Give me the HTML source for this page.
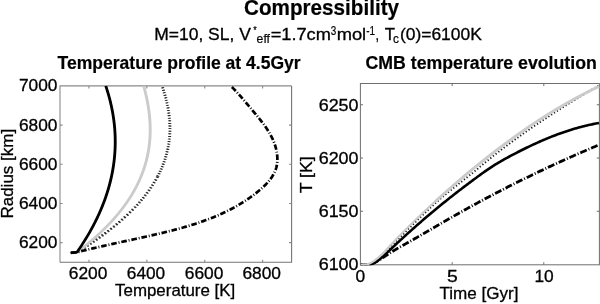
<!DOCTYPE html>
<html><head><meta charset="utf-8"><title>Compressibility</title>
<style>
html,body{margin:0;padding:0;background:#fff;}
body{width:600px;height:304px;overflow:hidden;}
svg{display:block;will-change:transform;}
text{font-family:"Liberation Sans",sans-serif;fill:#000;}
</style></head><body>
<svg width="600" height="304" viewBox="0 0 600 304">
<rect width="600" height="304" fill="#fff"/>
<g>
<text transform="translate(244.05,14.80) scale(0.9611,1)" font-size="21.5" font-weight="bold" stroke="#000" stroke-width="0.2">Compressibility</text>
<text transform="translate(57.60,69.40) scale(1.0014,1)" font-size="17.5" font-weight="bold" stroke="#000" stroke-width="0.2">Temperature profile at 4.5Gyr</text>
<text transform="translate(365.45,69.40) scale(1.0127,1)" font-size="17.5" font-weight="bold" stroke="#000" stroke-width="0.2">CMB temperature evolution</text>
<text transform="translate(154.23,39.80) scale(1.0222,1)" font-size="17.1" stroke="#000" stroke-width="0.3">M=10, SL, V</text>
<text transform="translate(253.26,34.10) scale(0.8095,1)" font-size="11" stroke="#000" stroke-width="0.2">*</text>
<text transform="translate(256.62,43.20) scale(1.0163,1)" font-size="12" stroke="#000" stroke-width="0.2">eff</text>
<text transform="translate(270.65,39.80) scale(1.0662,1)" font-size="17.1" stroke="#000" stroke-width="0.3">=1.7cm</text>
<text transform="translate(330.69,34.70) scale(0.8258,1)" font-size="12" stroke="#000" stroke-width="0.2">3</text>
<text transform="translate(336.65,39.80) scale(1.0726,1)" font-size="17.1" stroke="#000" stroke-width="0.3">mol</text>
<text transform="translate(366.19,34.70) scale(0.8258,1)" font-size="12" stroke="#000" stroke-width="0.2">-1</text>
<text transform="translate(375.60,39.80) scale(0.7485,1)" font-size="17.1" stroke="#000" stroke-width="0.3">,</text>
<text transform="translate(384.74,39.80) scale(0.9812,1)" font-size="17.1" stroke="#000" stroke-width="0.3">T</text>
<text transform="translate(392.93,43.40) scale(0.9931,1)" font-size="12" stroke="#000" stroke-width="0.2">c</text>
<text transform="translate(399.88,39.80) scale(1.0208,1)" font-size="17.1" stroke="#000" stroke-width="0.3">(0)=6100K</text>
<text transform="translate(115.04,296.20) scale(0.9952,1)" font-size="17" stroke="#000" stroke-width="0.3">Temperature [K]</text>
<text transform="translate(439.43,299.30) scale(1.0048,1)" font-size="17" stroke="#000" stroke-width="0.3">Time [Gyr]</text>
<text transform="translate(12.90,218.53) rotate(-90) scale(0.9998,1)" font-size="17" stroke="#000" stroke-width="0.3">Radius [km]</text>
<text transform="translate(312.20,193.28) rotate(-90) scale(1.0398,1)" font-size="17" stroke="#000" stroke-width="0.3">T [K]</text>
<text transform="translate(68.79,279.00) scale(1.0219,1)" font-size="17" stroke="#000" stroke-width="0.3">6200</text>
<text transform="translate(126.79,279.00) scale(1.0164,1)" font-size="17" stroke="#000" stroke-width="0.3">6400</text>
<text transform="translate(184.79,279.00) scale(1.0219,1)" font-size="17" stroke="#000" stroke-width="0.3">6600</text>
<text transform="translate(242.39,279.00) scale(1.0219,1)" font-size="17" stroke="#000" stroke-width="0.3">6800</text>
<text transform="translate(18.89,248.16) scale(1.0192,1)" font-size="17" stroke="#000" stroke-width="0.3">6200</text>
<text transform="translate(18.89,208.97) scale(1.0192,1)" font-size="17" stroke="#000" stroke-width="0.3">6400</text>
<text transform="translate(18.89,169.78) scale(1.0192,1)" font-size="17" stroke="#000" stroke-width="0.3">6600</text>
<text transform="translate(18.89,130.59) scale(1.0192,1)" font-size="17" stroke="#000" stroke-width="0.3">6800</text>
<text transform="translate(18.89,91.40) scale(1.0192,1)" font-size="17" stroke="#000" stroke-width="0.3">7000</text>
<text transform="translate(355.46,282.00) scale(1.0235,1)" font-size="17" stroke="#000" stroke-width="0.3">0</text>
<text transform="translate(446.99,282.00) scale(1.1416,1)" font-size="17" stroke="#000" stroke-width="0.3">5</text>
<text transform="translate(534.41,282.00) scale(1.0216,1)" font-size="17" stroke="#000" stroke-width="0.3">10</text>
<text transform="translate(318.66,270.30) scale(1.0547,1)" font-size="17" stroke="#000" stroke-width="0.3">6100</text>
<text transform="translate(318.66,217.05) scale(1.0547,1)" font-size="17" stroke="#000" stroke-width="0.3">6150</text>
<text transform="translate(318.66,163.80) scale(1.0547,1)" font-size="17" stroke="#000" stroke-width="0.3">6200</text>
<text transform="translate(318.66,110.55) scale(1.0547,1)" font-size="17" stroke="#000" stroke-width="0.3">6250</text>
</g>
<!-- left axes -->
<g fill="none" stroke="#8a8a8a" stroke-width="1.1">
<path d="M60 262.25V85.9H291.6"/>
<path d="M291.6 85.9V262.25H60" stroke="#747474"/>
<path d="M88.95 262.25v-2.6M88.95 85.9v2.6"/>
<path d="M146.85 262.25v-2.6M146.85 85.9v2.6"/>
<path d="M204.75 262.25v-2.6M204.75 85.9v2.6"/>
<path d="M262.65 262.25v-2.6M262.65 85.9v2.6"/>
<path d="M60 242.66h2.6M291.6 242.66h-2.6"/>
<path d="M60 203.47h2.6M291.6 203.47h-2.6"/>
<path d="M60 164.28h2.6M291.6 164.28h-2.6"/>
<path d="M60 125.09h2.6M291.6 125.09h-2.6"/>
</g>
<!-- right axes -->
<g fill="none" stroke="#6e6e6e" stroke-width="1">
<rect x="360.4" y="83.5" width="239.0" height="181.3"/>
<path d="M452.15 264.8v-2.6M452.15 83.5v2.6"/>
<path d="M543.80 264.8v-2.6M543.80 83.5v2.6"/>
<path d="M360.4 211.25h2.6M599.4 211.25h-2.6"/>
<path d="M360.4 158.00h2.6M599.4 158.00h-2.6"/>
<path d="M360.4 104.75h2.6M599.4 104.75h-2.6"/>
</g>
<clipPath id="cl"><rect x="60" y="85.5" width="232" height="176.5"/></clipPath>
<clipPath id="cr"><rect x="360" y="83" width="240" height="182.2"/></clipPath>
<g clip-path="url(#cl)"><g fill="none" stroke-linejoin="round" transform="translate(59.6,0)">
<g>
<path d="M11.00 252.80L17.00 252.20L17.69 251.78L18.37 251.37L19.05 250.95L19.73 250.53L20.41 250.12L21.08 249.70L21.75 249.28L22.41 248.87L23.08 248.45L23.74 248.03L24.40 247.62L25.05 247.20L25.70 246.78L26.35 246.37L27.00 245.95L27.64 245.54L28.28 245.12L28.92 244.70L29.55 244.29L30.18 243.87L30.81 243.45L31.44 243.04L32.06 242.62L32.68 242.20L33.30 241.79L33.91 241.37L34.52 240.95L35.13 240.54L35.74 240.12L36.34 239.70L36.94 239.29L37.54 238.87L38.13 238.45L38.73 238.04L39.31 237.62L39.90 237.20L40.48 236.79L41.06 236.37L41.64 235.95L42.22 235.54L42.79 235.12L43.36 234.71L43.93 234.29L44.49 233.87L45.05 233.46L45.61 233.04L46.16 232.62L46.72 232.21L47.27 231.79L47.81 231.37L48.36 230.96L48.90 230.54L49.44 230.12L49.98 229.71L50.51 229.29L51.04 228.87L51.57 228.46L52.10 228.04L52.62 227.62L53.14 227.21L53.66 226.79L54.17 226.37L54.68 225.96L55.19 225.54L55.70 225.12L56.20 224.71L56.70 224.29L57.20 223.88L57.70 223.46L58.19 223.04L58.68 222.63L59.17 222.21L59.66 221.79L60.14 221.38L60.62 220.96L61.10 220.54L61.57 220.13L62.04 219.71L62.51 219.29L62.98 218.88L63.44 218.46L63.91 218.04L64.37 217.63L64.82 217.21L65.28 216.79L65.73 216.38L66.18 215.96L66.62 215.54L67.07 215.13L67.51 214.71L67.95 214.29L68.38 213.88L68.82 213.46L69.25 213.05L69.68 212.63L70.10 212.21L70.52 211.80L70.94 211.38L71.36 210.96L71.78 210.55L72.19 210.13L72.60 209.71L73.01 209.30L73.42 208.88L73.82 208.46L74.22 208.05L74.62 207.63L75.01 207.21L75.41 206.80L75.80 206.38L76.18 205.96L76.57 205.55L76.95 205.13" stroke="#2a2a2a" stroke-width="2.3" stroke-dasharray="1.1 2.5"/>
<path d="M76.95 205.13L77.33 204.71L77.71 204.30L78.09 203.88L78.46 203.46L78.83 203.05L79.20 202.63L79.57 202.22L79.93 201.80L80.29 201.38L80.65 200.97L81.01 200.55L81.36 200.13L81.71 199.72L82.06 199.30L82.41 198.88L82.75 198.47L83.09 198.05L83.43 197.63L83.77 197.22L84.10 196.80L84.44 196.38L84.77 195.97L85.09 195.55L85.42 195.13L85.74 194.72L86.06 194.30L86.38 193.88L86.70 193.47L87.01 193.05L87.32 192.63L87.63 192.22L87.93 191.80L88.24 191.38L88.54 190.97L88.84 190.55L89.14 190.14L89.43 189.72L89.72 189.30L90.01 188.89L90.30 188.47L90.59 188.05L90.87 187.64L91.15 187.22L91.43 186.80L91.71 186.39L91.98 185.97L92.25 185.55L92.52 185.14L92.79 184.72L93.05 184.30L93.32 183.89L93.58 183.47L93.84 183.05L94.09 182.64L94.35 182.22L94.60 181.80L94.85 181.39L95.09 180.97L95.34 180.55L95.58 180.14L95.82 179.72L96.06 179.31L96.30 178.89L96.53 178.47L96.76 178.06L96.99 177.64L97.22 177.22L97.44 176.81L97.67 176.39" stroke="#2a2a2a" stroke-width="2.3" stroke-dasharray="0.95 2.15"/>
<path d="M97.67 176.39L97.89 175.97L98.11 175.56L98.32 175.14L98.54 174.72L98.75 174.31L98.96 173.89L99.17 173.47L99.37 173.06L99.57 172.64L99.78 172.22L99.98 171.81L100.17 171.39L100.37 170.97L100.56 170.56L100.75 170.14L100.94 169.72L101.13 169.31L101.31 168.89L101.49 168.48L101.67 168.06L101.85 167.64L102.03 167.23L102.20 166.81L102.37 166.39L102.54 165.98L102.71 165.56L102.88 165.14L103.04 164.73L103.20 164.31L103.36 163.89L103.52 163.48L103.68 163.06L103.83 162.64L103.98 162.23L104.13 161.81L104.28 161.39L104.42 160.98L104.57 160.56L104.71 160.14L104.85 159.73L104.99 159.31L105.12 158.89L105.25 158.48L105.39 158.06L105.52 157.65L105.64 157.23L105.77 156.81L105.89 156.40L106.01 155.98L106.13 155.56L106.25 155.15L106.37 154.73L106.48 154.31L106.59 153.90L106.70 153.48L106.81 153.06L106.92 152.65L107.02 152.23L107.12 151.81L107.22 151.40L107.32 150.98L107.42 150.56L107.51 150.15L107.60 149.73L107.69 149.31L107.78 148.90L107.87 148.48L107.96 148.06L108.04 147.65L108.12 147.23L108.20 146.82L108.28 146.40L108.35 145.98L108.43 145.57L108.50 145.15L108.57 144.73L108.64 144.32L108.70 143.90L108.77 143.48L108.83 143.07L108.89 142.65L108.95 142.23L109.01 141.82L109.06 141.40L109.12 140.98L109.17 140.57L109.22 140.15L109.27 139.73L109.31 139.32L109.36 138.90L109.40 138.48L109.44 138.07L109.48 137.65L109.52 137.23L109.56 136.82L109.59 136.40L109.62 135.98L109.65 135.57L109.68 135.15L109.71 134.74L109.73 134.32L109.76 133.90L109.78 133.49L109.80 133.07L109.82 132.65L109.83 132.24L109.85 131.82L109.86 131.40L109.87 130.99L109.88 130.57L109.89 130.15L109.90 129.74L109.90 129.32L109.91 128.90L109.91 128.49L109.91 128.07L109.90 127.65L109.90 127.24L109.90 126.82L109.89 126.40L109.88 125.99L109.87 125.57L109.86 125.15L109.84 124.74L109.83 124.32L109.81 123.91L109.79 123.49L109.77 123.07L109.75 122.66L109.73 122.24L109.70 121.82L109.68 121.41L109.65 120.99L109.62 120.57L109.59 120.16L109.55 119.74L109.52 119.32L109.48 118.91L109.45 118.49L109.41 118.07L109.37 117.66L109.32 117.24L109.28 116.82L109.23 116.41L109.19 115.99L109.14 115.57L109.09 115.16L109.04 114.74L108.98 114.32L108.93 113.91L108.87 113.49L108.81 113.08L108.76 112.66L108.69 112.24L108.63 111.83L108.57 111.41L108.50 110.99L108.44 110.58L108.37 110.16L108.30 109.74L108.23 109.33L108.15 108.91L108.08 108.49L108.00 108.08L107.93 107.66L107.85 107.24L107.77 106.83L107.69 106.41L107.60 105.99L107.52 105.58L107.43 105.16L107.35 104.74L107.26 104.33L107.17 103.91L107.07 103.49L106.98 103.08L106.89 102.66L106.79 102.25L106.69 101.83L106.60 101.41L106.50 101.00L106.39 100.58L106.29 100.16L106.19 99.75L106.08 99.33L105.97 98.91L105.87 98.50L105.76 98.08L105.64 97.66L105.53 97.25L105.42 96.83L105.30 96.41L105.19 96.00L105.07 95.58L104.95 95.16L104.83 94.75L104.71 94.33L104.58 93.91L104.46 93.50L104.33 93.08L104.21 92.66L104.08 92.25L103.95 91.83L103.82 91.42L103.68 91.00L103.55 90.58L103.42 90.17L103.28 89.75L103.14 89.33L103.00 88.92L102.86 88.50L102.72 88.08L102.58 87.67L102.44 87.25L102.29 86.83L102.14 86.42L102.00 86.00" stroke="#222" stroke-width="2.3" stroke-dasharray="0.85 1.75"/>
<path d="M11.00 252.80L17.00 252.20L18.85 250.80L20.67 249.41L22.46 248.01L24.22 246.61L25.96 245.22L27.67 243.82L29.35 242.42L31.00 241.03L32.63 239.63L34.24 238.23L35.81 236.84L37.36 235.44L38.89 234.04L40.39 232.65L41.86 231.25L43.31 229.85L44.73 228.46L46.13 227.06L47.50 225.66L48.85 224.27L50.17 222.87L51.47 221.47L52.74 220.08L53.99 218.68L55.22 217.28L56.42 215.89L57.59 214.49L58.75 213.09L59.88 211.70L60.99 210.30L62.07 208.90L63.13 207.51L64.17 206.11L65.18 204.71L66.17 203.32L67.14 201.92L68.09 200.52L69.02 199.13L69.92 197.73L70.80 196.33L71.66 194.94L72.50 193.54L73.31 192.14L74.11 190.75L74.88 189.35L75.63 187.95L76.36 186.56L77.08 185.16L77.77 183.76L78.44 182.37L79.09 180.97L79.71 179.57L80.32 178.18L80.91 176.78L81.48 175.38L82.03 173.99L82.56 172.59L83.08 171.19L83.57 169.80L84.04 168.40L84.50 167.01L84.93 165.61L85.35 164.21L85.75 162.82L86.13 161.42L86.49 160.02L86.84 158.63L87.16 157.23L87.47 155.83L87.76 154.44L88.04 153.04L88.30 151.64L88.54 150.25L88.76 148.85L88.97 147.45L89.16 146.06L89.33 144.66L89.49 143.26L89.63 141.87L89.75 140.47L89.86 139.07L89.95 137.68L90.03 136.28L90.09 134.88L90.14 133.49L90.17 132.09L90.19 130.69L90.19 129.30L90.18 127.90L90.15 126.50L90.11 125.11L90.06 123.71L89.99 122.31L89.90 120.92L89.80 119.52L89.69 118.12L89.57 116.73L89.43 115.33L89.28 113.93L89.11 112.54L88.93 111.14L88.74 109.74L88.54 108.35L88.33 106.95L88.10 105.55L87.86 104.16L87.61 102.76L87.34 101.36L87.07 99.97L86.78 98.57L86.48 97.17L86.17 95.78L85.85 94.38L85.52 92.98L85.17 91.59L84.82 90.19L84.46 88.79L84.08 87.40L83.70 86.00" stroke="#cbcbcb" stroke-width="2.1"/>
</g>
<g transform="translate(0.8,0)">
<path d="M11.00 252.80L17.00 252.20L17.69 251.78L18.37 251.37L19.05 250.95L19.73 250.53L20.41 250.12L21.08 249.70L21.75 249.28L22.41 248.87L23.08 248.45L23.74 248.03L24.40 247.62L25.05 247.20L25.70 246.78L26.35 246.37L27.00 245.95L27.64 245.54L28.28 245.12L28.92 244.70L29.55 244.29L30.18 243.87L30.81 243.45L31.44 243.04L32.06 242.62L32.68 242.20L33.30 241.79L33.91 241.37L34.52 240.95L35.13 240.54L35.74 240.12L36.34 239.70L36.94 239.29L37.54 238.87L38.13 238.45L38.73 238.04L39.31 237.62L39.90 237.20L40.48 236.79L41.06 236.37L41.64 235.95L42.22 235.54L42.79 235.12L43.36 234.71L43.93 234.29L44.49 233.87L45.05 233.46L45.61 233.04L46.16 232.62L46.72 232.21L47.27 231.79L47.81 231.37L48.36 230.96L48.90 230.54L49.44 230.12L49.98 229.71L50.51 229.29L51.04 228.87L51.57 228.46L52.10 228.04L52.62 227.62L53.14 227.21L53.66 226.79L54.17 226.37L54.68 225.96L55.19 225.54L55.70 225.12L56.20 224.71L56.70 224.29L57.20 223.88L57.70 223.46L58.19 223.04L58.68 222.63L59.17 222.21L59.66 221.79L60.14 221.38L60.62 220.96L61.10 220.54L61.57 220.13L62.04 219.71L62.51 219.29L62.98 218.88L63.44 218.46L63.91 218.04L64.37 217.63L64.82 217.21L65.28 216.79L65.73 216.38L66.18 215.96L66.62 215.54L67.07 215.13L67.51 214.71L67.95 214.29L68.38 213.88L68.82 213.46L69.25 213.05L69.68 212.63L70.10 212.21L70.52 211.80L70.94 211.38L71.36 210.96L71.78 210.55L72.19 210.13L72.60 209.71L73.01 209.30L73.42 208.88L73.82 208.46L74.22 208.05L74.62 207.63L75.01 207.21L75.41 206.80L75.80 206.38L76.18 205.96L76.57 205.55L76.95 205.13" stroke="#2a2a2a" stroke-width="2.3" stroke-dasharray="1.1 2.5"/>
<path d="M76.95 205.13L77.33 204.71L77.71 204.30L78.09 203.88L78.46 203.46L78.83 203.05L79.20 202.63L79.57 202.22L79.93 201.80L80.29 201.38L80.65 200.97L81.01 200.55L81.36 200.13L81.71 199.72L82.06 199.30L82.41 198.88L82.75 198.47L83.09 198.05L83.43 197.63L83.77 197.22L84.10 196.80L84.44 196.38L84.77 195.97L85.09 195.55L85.42 195.13L85.74 194.72L86.06 194.30L86.38 193.88L86.70 193.47L87.01 193.05L87.32 192.63L87.63 192.22L87.93 191.80L88.24 191.38L88.54 190.97L88.84 190.55L89.14 190.14L89.43 189.72L89.72 189.30L90.01 188.89L90.30 188.47L90.59 188.05L90.87 187.64L91.15 187.22L91.43 186.80L91.71 186.39L91.98 185.97L92.25 185.55L92.52 185.14L92.79 184.72L93.05 184.30L93.32 183.89L93.58 183.47L93.84 183.05L94.09 182.64L94.35 182.22L94.60 181.80L94.85 181.39L95.09 180.97L95.34 180.55L95.58 180.14L95.82 179.72L96.06 179.31L96.30 178.89L96.53 178.47L96.76 178.06L96.99 177.64L97.22 177.22L97.44 176.81L97.67 176.39" stroke="#2a2a2a" stroke-width="2.3" stroke-dasharray="0.95 2.15"/>
<path d="M97.67 176.39L97.89 175.97L98.11 175.56L98.32 175.14L98.54 174.72L98.75 174.31L98.96 173.89L99.17 173.47L99.37 173.06L99.57 172.64L99.78 172.22L99.98 171.81L100.17 171.39L100.37 170.97L100.56 170.56L100.75 170.14L100.94 169.72L101.13 169.31L101.31 168.89L101.49 168.48L101.67 168.06L101.85 167.64L102.03 167.23L102.20 166.81L102.37 166.39L102.54 165.98L102.71 165.56L102.88 165.14L103.04 164.73L103.20 164.31L103.36 163.89L103.52 163.48L103.68 163.06L103.83 162.64L103.98 162.23L104.13 161.81L104.28 161.39L104.42 160.98L104.57 160.56L104.71 160.14L104.85 159.73L104.99 159.31L105.12 158.89L105.25 158.48L105.39 158.06L105.52 157.65L105.64 157.23L105.77 156.81L105.89 156.40L106.01 155.98L106.13 155.56L106.25 155.15L106.37 154.73L106.48 154.31L106.59 153.90L106.70 153.48L106.81 153.06L106.92 152.65L107.02 152.23L107.12 151.81L107.22 151.40L107.32 150.98L107.42 150.56L107.51 150.15L107.60 149.73L107.69 149.31L107.78 148.90L107.87 148.48L107.96 148.06L108.04 147.65L108.12 147.23L108.20 146.82L108.28 146.40L108.35 145.98L108.43 145.57L108.50 145.15L108.57 144.73L108.64 144.32L108.70 143.90L108.77 143.48L108.83 143.07L108.89 142.65L108.95 142.23L109.01 141.82L109.06 141.40L109.12 140.98L109.17 140.57L109.22 140.15L109.27 139.73L109.31 139.32L109.36 138.90L109.40 138.48L109.44 138.07L109.48 137.65L109.52 137.23L109.56 136.82L109.59 136.40L109.62 135.98L109.65 135.57L109.68 135.15L109.71 134.74L109.73 134.32L109.76 133.90L109.78 133.49L109.80 133.07L109.82 132.65L109.83 132.24L109.85 131.82L109.86 131.40L109.87 130.99L109.88 130.57L109.89 130.15L109.90 129.74L109.90 129.32L109.91 128.90L109.91 128.49L109.91 128.07L109.90 127.65L109.90 127.24L109.90 126.82L109.89 126.40L109.88 125.99L109.87 125.57L109.86 125.15L109.84 124.74L109.83 124.32L109.81 123.91L109.79 123.49L109.77 123.07L109.75 122.66L109.73 122.24L109.70 121.82L109.68 121.41L109.65 120.99L109.62 120.57L109.59 120.16L109.55 119.74L109.52 119.32L109.48 118.91L109.45 118.49L109.41 118.07L109.37 117.66L109.32 117.24L109.28 116.82L109.23 116.41L109.19 115.99L109.14 115.57L109.09 115.16L109.04 114.74L108.98 114.32L108.93 113.91L108.87 113.49L108.81 113.08L108.76 112.66L108.69 112.24L108.63 111.83L108.57 111.41L108.50 110.99L108.44 110.58L108.37 110.16L108.30 109.74L108.23 109.33L108.15 108.91L108.08 108.49L108.00 108.08L107.93 107.66L107.85 107.24L107.77 106.83L107.69 106.41L107.60 105.99L107.52 105.58L107.43 105.16L107.35 104.74L107.26 104.33L107.17 103.91L107.07 103.49L106.98 103.08L106.89 102.66L106.79 102.25L106.69 101.83L106.60 101.41L106.50 101.00L106.39 100.58L106.29 100.16L106.19 99.75L106.08 99.33L105.97 98.91L105.87 98.50L105.76 98.08L105.64 97.66L105.53 97.25L105.42 96.83L105.30 96.41L105.19 96.00L105.07 95.58L104.95 95.16L104.83 94.75L104.71 94.33L104.58 93.91L104.46 93.50L104.33 93.08L104.21 92.66L104.08 92.25L103.95 91.83L103.82 91.42L103.68 91.00L103.55 90.58L103.42 90.17L103.28 89.75L103.14 89.33L103.00 88.92L102.86 88.50L102.72 88.08L102.58 87.67L102.44 87.25L102.29 86.83L102.14 86.42L102.00 86.00" stroke="#222" stroke-width="2.3" stroke-dasharray="0.85 1.75"/>
<path d="M11.00 252.80L17.00 252.20L18.85 250.80L20.67 249.41L22.46 248.01L24.22 246.61L25.96 245.22L27.67 243.82L29.35 242.42L31.00 241.03L32.63 239.63L34.24 238.23L35.81 236.84L37.36 235.44L38.89 234.04L40.39 232.65L41.86 231.25L43.31 229.85L44.73 228.46L46.13 227.06L47.50 225.66L48.85 224.27L50.17 222.87L51.47 221.47L52.74 220.08L53.99 218.68L55.22 217.28L56.42 215.89L57.59 214.49L58.75 213.09L59.88 211.70L60.99 210.30L62.07 208.90L63.13 207.51L64.17 206.11L65.18 204.71L66.17 203.32L67.14 201.92L68.09 200.52L69.02 199.13L69.92 197.73L70.80 196.33L71.66 194.94L72.50 193.54L73.31 192.14L74.11 190.75L74.88 189.35L75.63 187.95L76.36 186.56L77.08 185.16L77.77 183.76L78.44 182.37L79.09 180.97L79.71 179.57L80.32 178.18L80.91 176.78L81.48 175.38L82.03 173.99L82.56 172.59L83.08 171.19L83.57 169.80L84.04 168.40L84.50 167.01L84.93 165.61L85.35 164.21L85.75 162.82L86.13 161.42L86.49 160.02L86.84 158.63L87.16 157.23L87.47 155.83L87.76 154.44L88.04 153.04L88.30 151.64L88.54 150.25L88.76 148.85L88.97 147.45L89.16 146.06L89.33 144.66L89.49 143.26L89.63 141.87L89.75 140.47L89.86 139.07L89.95 137.68L90.03 136.28L90.09 134.88L90.14 133.49L90.17 132.09L90.19 130.69L90.19 129.30L90.18 127.90L90.15 126.50L90.11 125.11L90.06 123.71L89.99 122.31L89.90 120.92L89.80 119.52L89.69 118.12L89.57 116.73L89.43 115.33L89.28 113.93L89.11 112.54L88.93 111.14L88.74 109.74L88.54 108.35L88.33 106.95L88.10 105.55L87.86 104.16L87.61 102.76L87.34 101.36L87.07 99.97L86.78 98.57L86.48 97.17L86.17 95.78L85.85 94.38L85.52 92.98L85.17 91.59L84.82 90.19L84.46 88.79L84.08 87.40L83.70 86.00" stroke="#cbcbcb" stroke-width="2.1"/>
</g>
<path d="M11.00 252.80L17.00 252.20L18.42 251.84L19.85 251.48L21.27 251.13L22.69 250.78L24.12 250.44L25.54 250.09L26.96 249.75L28.39 249.41L29.81 249.07L31.23 248.74L32.66 248.41L34.08 248.08L35.50 247.75L36.92 247.42L38.35 247.10L39.77 246.77L41.19 246.45L42.61 246.13L44.03 245.81L45.46 245.49L46.88 245.18L48.30 244.86L49.72 244.55L51.15 244.24L52.57 243.92L53.99 243.61L55.41 243.30L56.83 242.99L58.26 242.68L59.68 242.37L61.10 242.06L62.53 241.75L63.95 241.44L65.37 241.14L66.80 240.83L68.22 240.52L69.64 240.21L71.07 239.90L72.49 239.59L73.92 239.28L75.34 238.97L76.77 238.66L78.19 238.35L79.62 238.04L81.04 237.72L82.47 237.41L83.90 237.09L85.32 236.77L86.75 236.46L88.18 236.14L89.61 235.82L91.03 235.49L92.46 235.17L93.89 234.84L95.32 234.52L96.75 234.19L98.18 233.85L99.61 233.52L101.04 233.18L102.47 232.84L103.89 232.50L105.32 232.15L106.75 231.80L108.17 231.45L109.60 231.09L111.02 230.73L112.45 230.37L113.87 230.00L115.29 229.63L116.71 229.26L118.13 228.88L119.55 228.49L120.96 228.10L122.38 227.71L123.79 227.31L125.20 226.90L126.61 226.49L128.01 226.08L129.42 225.66L130.82 225.23L132.22 224.80L133.62 224.36L135.01 223.91L136.40 223.46L137.79 223.00L139.18 222.54L140.56 222.06L141.94 221.58L143.32 221.10L144.70 220.60L146.07 220.10L147.44 219.59L148.80 219.08L150.16 218.55L151.52 218.02L152.87 217.48L154.22 216.93L155.57 216.37L156.91 215.81L158.25 215.23L159.58 214.65L160.91 214.05L162.24 213.45L163.56 212.84L164.87 212.21L166.19 211.58L167.49 210.94L168.79 210.29L170.09 209.63L171.38 208.95L172.67 208.27L173.95 207.58L175.23 206.87L176.50 206.16L177.76 205.43L179.02 204.69L180.28 203.94L181.53 203.18L182.77 202.40L184.01 201.62L185.24 200.82L186.46 200.01L187.68 199.19L188.89 198.36L190.09 197.51L191.29 196.65L192.49 195.77L193.67 194.89L194.85 193.99L196.02 193.07L197.19 192.15L198.34 191.21L199.49 190.25L200.63 189.28L201.75 188.30L202.85 187.30L203.94 186.28L205.00 185.24L206.04 184.19L207.05 183.12L208.02 182.03L208.97 180.92L209.88 179.79L210.75 178.64L211.57 177.47L212.36 176.28L213.09 175.07L213.78 173.83L214.42 172.57L215.00 171.29L215.52 169.98L215.98 168.64L216.38 167.28L216.71 165.90L216.97 164.49L217.17 163.05L217.30 161.59L217.37 160.12L217.37 158.64L217.32 157.14L217.22 155.65L217.06 154.16L216.85 152.67L216.59 151.20L216.29 149.73L215.94 148.29L215.55 146.87L215.13 145.46L214.66 144.07L214.16 142.69L213.63 141.33L213.06 139.99L212.45 138.66L211.82 137.34L211.16 136.04L210.47 134.75L209.75 133.47L209.01 132.21L208.24 130.96L207.45 129.72L206.64 128.49L205.82 127.27L204.97 126.07L204.11 124.87L203.23 123.68L202.34 122.50L201.44 121.32L200.53 120.16L199.61 119.00L198.68 117.85L197.74 116.70L196.80 115.56L195.86 114.43L194.92 113.30L193.97 112.17L193.03 111.05L192.09 109.93L191.16 108.82L190.23 107.71L189.30 106.60L188.38 105.49L187.45 104.38L186.53 103.28L185.61 102.18L184.68 101.08L183.75 99.99L182.82 98.89L181.88 97.80L180.93 96.72L179.97 95.63L179.01 94.55L178.03 93.47L177.05 92.40L176.05 91.32L175.03 90.25L174.00 89.18L172.95 88.12L171.89 87.06L170.80 86.00" stroke="#000" stroke-width="2.7" stroke-dasharray="5.6 1.9 0.9 1.9" transform="translate(0.4,0)"/>
<path d="M11.00 252.80L17.00 252.20L17.97 250.80L18.92 249.41L19.87 248.01L20.80 246.61L21.72 245.22L22.62 243.82L23.52 242.42L24.40 241.03L25.26 239.63L26.12 238.23L26.96 236.84L27.79 235.44L28.61 234.04L29.42 232.65L30.21 231.25L30.99 229.85L31.76 228.46L32.51 227.06L33.25 225.66L33.98 224.27L34.70 222.87L35.41 221.47L36.10 220.08L36.78 218.68L37.45 217.28L38.10 215.89L38.75 214.49L39.38 213.09L39.99 211.70L40.60 210.30L41.19 208.90L41.77 207.51L42.34 206.11L42.90 204.71L43.44 203.32L43.97 201.92L44.49 200.52L45.00 199.13L45.49 197.73L45.97 196.33L46.44 194.94L46.90 193.54L47.34 192.14L47.77 190.75L48.20 189.35L48.60 187.95L49.00 186.56L49.38 185.16L49.75 183.76L50.11 182.37L50.46 180.97L50.79 179.57L51.11 178.18L51.42 176.78L51.72 175.38L52.01 173.99L52.28 172.59L52.54 171.19L52.79 169.80L53.03 168.40L53.25 167.01L53.47 165.61L53.67 164.21L53.85 162.82L54.03 161.42L54.19 160.02L54.35 158.63L54.49 157.23L54.61 155.83L54.73 154.44L54.83 153.04L54.92 151.64L55.00 150.25L55.07 148.85L55.13 147.45L55.17 146.06L55.20 144.66L55.22 143.26L55.23 141.87L55.22 140.47L55.21 139.07L55.18 137.68L55.14 136.28L55.09 134.88L55.02 133.49L54.95 132.09L54.86 130.69L54.76 129.30L54.65 127.90L54.52 126.50L54.39 125.11L54.24 123.71L54.08 122.31L53.91 120.92L53.73 119.52L53.53 118.12L53.32 116.73L53.10 115.33L52.87 113.93L52.63 112.54L52.38 111.14L52.11 109.74L51.83 108.35L51.54 106.95L51.24 105.55L50.93 104.16L50.61 102.76L50.27 101.36L49.92 99.97L49.56 98.57L49.19 97.17L48.81 95.78L48.41 94.38L48.00 92.98L47.59 91.59L47.16 90.19L46.71 88.79L46.26 87.40L45.80 86.00" stroke="#000" stroke-width="2.05"/>
<path d="M11.00 252.80L17.00 252.20L17.97 250.80L18.92 249.41L19.87 248.01L20.80 246.61L21.72 245.22L22.62 243.82L23.52 242.42L24.40 241.03L25.26 239.63L26.12 238.23L26.96 236.84L27.79 235.44L28.61 234.04L29.42 232.65L30.21 231.25L30.99 229.85L31.76 228.46L32.51 227.06L33.25 225.66L33.98 224.27L34.70 222.87L35.41 221.47L36.10 220.08L36.78 218.68L37.45 217.28L38.10 215.89L38.75 214.49L39.38 213.09L39.99 211.70L40.60 210.30L41.19 208.90L41.77 207.51L42.34 206.11L42.90 204.71L43.44 203.32L43.97 201.92L44.49 200.52L45.00 199.13L45.49 197.73L45.97 196.33L46.44 194.94L46.90 193.54L47.34 192.14L47.77 190.75L48.20 189.35L48.60 187.95L49.00 186.56L49.38 185.16L49.75 183.76L50.11 182.37L50.46 180.97L50.79 179.57L51.11 178.18L51.42 176.78L51.72 175.38L52.01 173.99L52.28 172.59L52.54 171.19L52.79 169.80L53.03 168.40L53.25 167.01L53.47 165.61L53.67 164.21L53.85 162.82L54.03 161.42L54.19 160.02L54.35 158.63L54.49 157.23L54.61 155.83L54.73 154.44L54.83 153.04L54.92 151.64L55.00 150.25L55.07 148.85L55.13 147.45L55.17 146.06L55.20 144.66L55.22 143.26L55.23 141.87L55.22 140.47L55.21 139.07L55.18 137.68L55.14 136.28L55.09 134.88L55.02 133.49L54.95 132.09L54.86 130.69L54.76 129.30L54.65 127.90L54.52 126.50L54.39 125.11L54.24 123.71L54.08 122.31L53.91 120.92L53.73 119.52L53.53 118.12L53.32 116.73L53.10 115.33L52.87 113.93L52.63 112.54L52.38 111.14L52.11 109.74L51.83 108.35L51.54 106.95L51.24 105.55L50.93 104.16L50.61 102.76L50.27 101.36L49.92 99.97L49.56 98.57L49.19 97.17L48.81 95.78L48.41 94.38L48.00 92.98L47.59 91.59L47.16 90.19L46.71 88.79L46.26 87.40L45.80 86.00" stroke="#000" stroke-width="2.05" transform="translate(0.8,0)"/>
</g></g>
<g fill="none" clip-path="url(#cr)" stroke-linejoin="round">
<path d="M360.50 264.50L362.00 264.82L363.50 264.99L365.00 265.01L366.51 264.90L368.01 264.67L369.51 264.32L371.01 263.87L372.51 263.32L374.01 262.68L375.51 261.97L377.01 261.18L378.52 260.34L380.02 259.45L381.52 258.53L383.02 257.57L384.52 256.59L386.02 255.60L387.52 254.61L389.02 253.62L390.53 252.65L392.03 251.71L393.53 250.78L395.03 249.88L396.53 248.98L398.03 248.11L399.53 247.24L401.03 246.39L402.54 245.54L404.04 244.70L405.54 243.86L407.04 243.03L408.54 242.19L410.04 241.35L411.54 240.51L413.04 239.66L414.55 238.80L416.05 237.95L417.55 237.09L419.05 236.23L420.55 235.36L422.05 234.49L423.55 233.62L425.05 232.75L426.56 231.88L428.06 231.00L429.56 230.12L431.06 229.25L432.56 228.37L434.06 227.49L435.56 226.61L437.06 225.74L438.57 224.86L440.07 223.99L441.57 223.12L443.07 222.24L444.57 221.38L446.07 220.51L447.57 219.65L449.07 218.78L450.58 217.92L452.08 217.07L453.58 216.21L455.08 215.36L456.58 214.51L458.08 213.67L459.58 212.82L461.08 211.98L462.59 211.14L464.09 210.31L465.59 209.47L467.09 208.64L468.59 207.81L470.09 206.99L471.59 206.16L473.09 205.34L474.60 204.52L476.10 203.71L477.60 202.89L479.10 202.08L480.60 201.27L482.10 200.47L483.60 199.66L485.10 198.86L486.61 198.06L488.11 197.26L489.61 196.47L491.11 195.68L492.61 194.89L494.11 194.10L495.61 193.31L497.11 192.53L498.62 191.75L500.12 190.97L501.62 190.20L503.12 189.43L504.62 188.66L506.12 187.89L507.62 187.12L509.12 186.36L510.63 185.60L512.13 184.84L513.63 184.08L515.13 183.33L516.63 182.58L518.13 181.83L519.63 181.08L521.13 180.34L522.64 179.60L524.14 178.86L525.64 178.12L527.14 177.39L528.64 176.65L530.14 175.92L531.64 175.20L533.14 174.47L534.65 173.75L536.15 173.03L537.65 172.31L539.15 171.59L540.65 170.88L542.15 170.17L543.65 169.46L545.15 168.75L546.66 168.05L548.16 167.34L549.66 166.64L551.16 165.95L552.66 165.25L554.16 164.56L555.66 163.87L557.16 163.18L558.67 162.49L560.17 161.81L561.67 161.12L563.17 160.44L564.67 159.77L566.17 159.09L567.67 158.42L569.17 157.75L570.68 157.08L572.18 156.41L573.68 155.75L575.18 155.09L576.68 154.43L578.18 153.77L579.68 153.12L581.18 152.46L582.69 151.81L584.19 151.16L585.69 150.52L587.19 149.87L588.69 149.23L590.19 148.59L591.69 147.95L593.19 147.32L594.70 146.69L596.20 146.05L597.70 145.43L599.20 144.80" stroke="#000" stroke-width="2.8" stroke-dasharray="7 1.9 1.0 1.9"/>
<path d="M360.50 264.50L362.00 265.07L363.50 265.43L365.00 265.60L366.50 265.59L368.00 265.41L369.50 265.06L371.00 264.56L372.50 263.93L374.00 263.17L375.50 262.28L377.00 261.29L378.50 260.21L380.00 259.04L381.50 257.79L383.00 256.49L384.50 255.13L386.00 253.74L387.50 252.33L389.00 250.90L390.50 249.47L392.00 248.04L393.50 246.63L395.00 245.21L396.50 243.81L398.00 242.41L399.50 241.02L401.00 239.63L402.50 238.25L404.00 236.88L405.50 235.51L407.00 234.15L408.50 232.80L410.00 231.45L411.50 230.11L413.00 228.78L414.50 227.45L416.00 226.12L417.50 224.81L419.00 223.50L420.50 222.19L422.00 220.89L423.50 219.60L425.00 218.31L426.50 217.03L428.00 215.76L429.50 214.49L431.00 213.23L432.50 211.97L434.00 210.72L435.50 209.48L437.00 208.24L438.50 207.00L440.00 205.78L441.50 204.55L443.00 203.34L444.50 202.13L446.00 200.92L447.50 199.72L449.00 198.53L450.50 197.34L452.00 196.16L453.50 194.98L455.00 193.81L456.50 192.64L458.00 191.48L459.50 190.32L461.00 189.17L462.50 188.02L464.00 186.88L465.50 185.75L467.00 184.61L468.50 183.49L470.00 182.36L471.50 181.25L473.00 180.13L474.50 179.03L476.00 177.92L477.50 176.82L479.00 175.73L480.50 174.64L482.00 173.55L483.50 172.47L485.00 171.41L486.50 170.36L488.00 169.32L489.50 168.30L491.00 167.31L492.50 166.34L494.00 165.39L495.50 164.46L497.00 163.54L498.50 162.65L500.00 161.77L501.50 160.90L503.00 160.05L504.50 159.21L506.00 158.39L507.50 157.57L509.00 156.76L510.50 155.95L512.00 155.16L513.50 154.36L515.00 153.58L516.50 152.80L518.00 152.03L519.50 151.26L521.00 150.50L522.50 149.75L524.00 149.01L525.50 148.27L527.00 147.54L528.50 146.81L530.00 146.10L531.50 145.39L533.00 144.69L534.50 143.99L536.00 143.31L537.50 142.63L539.00 141.96L540.50 141.30L542.00 140.65L543.50 140.00L545.00 139.37L546.50 138.74L548.00 138.12L549.50 137.51L551.00 136.91L552.50 136.31L554.00 135.73L555.50 135.16L557.00 134.59L558.50 134.04L560.00 133.49L561.50 132.95L563.00 132.43L564.50 131.91L566.00 131.40L567.50 130.91L569.00 130.42L570.50 129.94L572.00 129.48L573.50 129.02L575.00 128.58L576.50 128.15L578.00 127.72L579.50 127.31L581.00 126.91L582.50 126.52L584.00 126.14L585.50 125.77L587.00 125.42L588.50 125.07L590.00 124.74L591.50 124.42L593.00 124.11L594.50 123.82L596.00 123.53L597.50 123.26L599.00 123.00" stroke="#000" stroke-width="2.6"/>
<path d="M386.20 250.52L386.80 249.95L387.40 249.37L388.00 248.79L388.59 248.20L389.19 247.62L389.79 247.03L390.39 246.44L390.98 245.86L391.58 245.27L392.18 244.68L392.78 244.09L393.38 243.50L393.97 242.91L394.57 242.31L395.17 241.72L395.77 241.13L396.36 240.54L396.96 239.95L397.56 239.35L398.16 238.76L398.76 238.17L399.35 237.57L399.95 236.98L400.55 236.38L401.15 235.79L401.74 235.20L402.34 234.60L402.94 234.01L403.54 233.41L404.14 232.82L404.73 232.23L405.33 231.63L405.93 231.04L406.53 230.45L407.12 229.86L407.72 229.26L408.32 228.67L408.92 228.08L409.52 227.49L410.11 226.90L410.71 226.31L411.31 225.72L411.91 225.13L412.50 224.54L413.10 223.96L413.70 223.37L414.30 222.78L414.89 222.20L415.49 221.61L416.09 221.03L416.69 220.45L417.29 219.86L417.88 219.28L418.48 218.70L419.08 218.12L419.68 217.55L420.27 216.97L420.87 216.39L421.47 215.82L422.07 215.24L422.67 214.67L423.26 214.10L423.86 213.53L424.46 212.96L425.06 212.40L425.65 211.83L426.25 211.27L426.85 210.70L427.45 210.14L428.05 209.58L428.64 209.02L429.24 208.47L429.84 207.91L430.44 207.36L431.03 206.81L431.63 206.26L432.23 205.71L432.83 205.16L433.42 204.62L434.02 204.08L434.62 203.53L435.22 203.00L435.82 202.46L436.41 201.92L437.01 201.39L437.61 200.86L438.21 200.33L438.80 199.81L439.40 199.28L440.00 198.76L440.60 198.24L441.20 197.72L441.79 197.21L442.39 196.70L442.99 196.19L443.59 195.68L444.18 195.17L444.78 194.67L445.38 194.17L445.98 193.67L446.58 193.18L447.17 192.68L447.77 192.19L448.37 191.71L448.97 191.22L449.56 190.73L450.16 190.25L450.76 189.77L451.36 189.29L451.95 188.81L452.55 188.34L453.15 187.86L453.75 187.39L454.35 186.91L454.94 186.44L455.54 185.97L456.14 185.50L456.74 185.03L457.33 184.56L457.93 184.09L458.53 183.63L459.13 183.16L459.73 182.69L460.32 182.22L460.92 181.76L461.52 181.29L462.12 180.82L462.71 180.36L463.31 179.89L463.91 179.42L464.51 178.95L465.11 178.48L465.70 178.01L466.30 177.54L466.90 177.07L467.50 176.59L468.09 176.12L468.69 175.64L469.29 175.17L469.89 174.69L470.48 174.21L471.08 173.73L471.68 173.25L472.28 172.76L472.88 172.28L473.47 171.79L474.07 171.30L474.67 170.81L475.27 170.33L475.86 169.84L476.46 169.35L477.06 168.85L477.66 168.36L478.26 167.87L478.85 167.38L479.45 166.88L480.05 166.39L480.65 165.90L481.24 165.41L481.84 164.91L482.44 164.42L483.04 163.93L483.64 163.44L484.23 162.94L484.83 162.45L485.43 161.96L486.03 161.47L486.62 160.98L487.22 160.50L487.82 160.01L488.42 159.52L489.02 159.04L489.61 158.56L490.21 158.07L490.81 157.59L491.41 157.11L492.00 156.63L492.60 156.16L493.20 155.68L493.80 155.21L494.39 154.74L494.99 154.26L495.59 153.79L496.19 153.33L496.79 152.86L497.38 152.39L497.98 151.93L498.58 151.46L499.18 151.00L499.77 150.54L500.37 150.08L500.97 149.62L501.57 149.16L502.17 148.71L502.76 148.25L503.36 147.80L503.96 147.34L504.56 146.89L505.15 146.44L505.75 145.99L506.35 145.54L506.95 145.10L507.55 144.65L508.14 144.20L508.74 143.76L509.34 143.32L509.94 142.88L510.53 142.43L511.13 141.99L511.73 141.56L512.33 141.12L512.92 140.68L513.52 140.25L514.12 139.81L514.72 139.38L515.32 138.94L515.91 138.51L516.51 138.08L517.11 137.65L517.71 137.22L518.30 136.79L518.90 136.37L519.50 135.94L520.10 135.51L520.70 135.09L521.29 134.67L521.89 134.24L522.49 133.82L523.09 133.40L523.68 132.98L524.28 132.56L524.88 132.14L525.48 131.72L526.08 131.31L526.67 130.89L527.27 130.47L527.87 130.06L528.47 129.65L529.06 129.23L529.66 128.82L530.26 128.41L530.86 128.00L531.45 127.59L532.05 127.18L532.65 126.77L533.25 126.36L533.85 125.95L534.44 125.54L535.04 125.14L535.64 124.73L536.24 124.33L536.83 123.92L537.43 123.52L538.03 123.12L538.63 122.71L539.23 122.31L539.82 121.91L540.42 121.51L541.02 121.11L541.62 120.71L542.21 120.31L542.81 119.92L543.41 119.52L544.01 119.12L544.61 118.73L545.20 118.33L545.80 117.94L546.40 117.54L547.00 117.15L547.59 116.76L548.19 116.36L548.79 115.97L549.39 115.58L549.98 115.19L550.58 114.80L551.18 114.41L551.78 114.03L552.38 113.64L552.97 113.25L553.57 112.86L554.17 112.48L554.77 112.09L555.36 111.71L555.96 111.32L556.56 110.94L557.16 110.56L557.76 110.17L558.35 109.79L558.95 109.41L559.55 109.03L560.15 108.65L560.74 108.27L561.34 107.89L561.94 107.51L562.54 107.13L563.14 106.76L563.73 106.38L564.33 106.00L564.93 105.63L565.53 105.25L566.12 104.88L566.72 104.50L567.32 104.13L567.92 103.76L568.52 103.38L569.11 103.01L569.71 102.64L570.31 102.27L570.91 101.90L571.50 101.53L572.10 101.16L572.70 100.79L573.30 100.42L573.89 100.05L574.49 99.69L575.09 99.32L575.69 98.95L576.29 98.59L576.88 98.22L577.48 97.85L578.08 97.49L578.68 97.13L579.27 96.76L579.87 96.40L580.47 96.04L581.07 95.67L581.67 95.31L582.26 94.95L582.86 94.59L583.46 94.23L584.06 93.87L584.65 93.51L585.25 93.15L585.85 92.79L586.45 92.43L587.05 92.07L587.64 91.72L588.24 91.36L588.84 91.00L589.44 90.65L590.03 90.29L590.63 89.93L591.23 89.58L591.83 89.22L592.42 88.87L593.02 88.52L593.62 88.16L594.22 87.81L594.82 87.46L595.41 87.10L596.01 86.75L596.61 86.40L597.21 86.05L597.80 85.70L598.40 85.35L599.00 85.00" stroke="#222" stroke-width="1.9" stroke-dasharray="1.3 2.1" transform="translate(0,0.4)"/>
<path d="M360.50 264.50L361.10 264.64L361.70 264.75L362.29 264.82L362.89 264.87L363.49 264.88L364.09 264.87L364.68 264.83L365.28 264.76L365.88 264.66L366.48 264.53L367.08 264.38L367.67 264.21L368.27 264.00L368.87 263.78L369.47 263.53L370.06 263.26L370.66 262.97L371.26 262.65L371.86 262.31L372.45 261.96L373.05 261.58L373.65 261.19L374.25 260.78L374.85 260.35L375.44 259.90L376.04 259.44L376.64 258.96L377.24 258.46L377.83 257.96L378.43 257.44L379.03 256.90L379.63 256.36L380.23 255.80L380.82 255.23L381.42 254.66L382.02 254.07L382.62 253.48L383.21 252.87L383.81 252.26L384.41 251.65L385.01 251.03L385.61 250.41L386.20 249.78L386.80 249.14L387.40 248.51L388.00 247.87L388.59 247.24L389.19 246.60L389.79 245.96L390.39 245.33L390.98 244.70L391.58 244.06L392.18 243.43L392.78 242.80L393.38 242.18L393.97 241.55L394.57 240.92L395.17 240.30L395.77 239.68L396.36 239.06L396.96 238.44L397.56 237.82L398.16 237.20L398.76 236.59L399.35 235.98L399.95 235.36L400.55 234.75L401.15 234.14L401.74 233.54L402.34 232.93L402.94 232.32L403.54 231.72L404.14 231.12L404.73 230.52L405.33 229.92L405.93 229.32L406.53 228.72L407.12 228.12L407.72 227.53L408.32 226.93L408.92 226.34L409.52 225.75L410.11 225.16L410.71 224.57L411.31 223.99L411.91 223.40L412.50 222.82L413.10 222.23L413.70 221.65L414.30 221.07L414.89 220.49L415.49 219.91L416.09 219.33L416.69 218.75L417.29 218.18L417.88 217.61L418.48 217.03L419.08 216.46L419.68 215.89L420.27 215.32L420.87 214.75L421.47 214.18L422.07 213.62L422.67 213.05L423.26 212.49L423.86 211.93L424.46 211.36L425.06 210.80L425.65 210.24L426.25 209.68L426.85 209.13L427.45 208.57L428.05 208.01L428.64 207.46L429.24 206.91L429.84 206.35L430.44 205.80L431.03 205.25L431.63 204.70L432.23 204.15L432.83 203.60L433.42 203.06L434.02 202.51L434.62 201.97L435.22 201.42L435.82 200.88L436.41 200.34L437.01 199.79L437.61 199.25L438.21 198.71L438.80 198.18L439.40 197.64L440.00 197.10L440.60 196.56L441.20 196.03L441.79 195.49L442.39 194.96L442.99 194.43L443.59 193.90L444.18 193.37L444.78 192.83L445.38 192.31L445.98 191.78L446.58 191.25L447.17 190.72L447.77 190.20L448.37 189.67L448.97 189.14L449.56 188.62L450.16 188.10L450.76 187.58L451.36 187.05L451.95 186.53L452.55 186.01L453.15 185.49L453.75 184.98L454.35 184.46L454.94 183.94L455.54 183.42L456.14 182.91L456.74 182.40L457.33 181.88L457.93 181.37L458.53 180.86L459.13 180.35L459.73 179.84L460.32 179.33L460.92 178.82L461.52 178.31L462.12 177.80L462.71 177.30L463.31 176.79L463.91 176.29L464.51 175.78L465.11 175.28L465.70 174.78L466.30 174.28L466.90 173.78L467.50 173.28L468.09 172.78L468.69 172.28L469.29 171.79L469.89 171.29L470.48 170.80L471.08 170.30L471.68 169.81L472.28 169.31L472.88 168.82L473.47 168.33L474.07 167.84L474.67 167.35L475.27 166.86L475.86 166.38L476.46 165.89L477.06 165.40L477.66 164.92L478.26 164.44L478.85 163.95L479.45 163.47L480.05 162.99L480.65 162.51L481.24 162.03L481.84 161.55L482.44 161.07L483.04 160.60L483.64 160.12L484.23 159.64L484.83 159.17L485.43 158.70L486.03 158.22L486.62 157.75L487.22 157.28L487.82 156.81L488.42 156.34L489.02 155.87L489.61 155.41L490.21 154.94L490.81 154.47L491.41 154.01L492.00 153.55L492.60 153.08L493.20 152.62L493.80 152.16L494.39 151.70L494.99 151.24L495.59 150.78L496.19 150.32L496.79 149.87L497.38 149.41L497.98 148.96L498.58 148.50L499.18 148.05L499.77 147.60L500.37 147.15L500.97 146.70L501.57 146.25L502.17 145.80L502.76 145.35L503.36 144.91L503.96 144.46L504.56 144.02L505.15 143.57L505.75 143.13L506.35 142.69L506.95 142.25L507.55 141.81L508.14 141.37L508.74 140.93L509.34 140.49L509.94 140.06L510.53 139.62L511.13 139.19L511.73 138.75L512.33 138.32L512.92 137.89L513.52 137.46L514.12 137.03L514.72 136.60L515.32 136.17L515.91 135.75L516.51 135.32L517.11 134.90L517.71 134.47L518.30 134.05L518.90 133.63L519.50 133.21L520.10 132.79L520.70 132.37L521.29 131.95L521.89 131.53L522.49 131.12L523.09 130.70L523.68 130.29L524.28 129.87L524.88 129.46L525.48 129.05L526.08 128.64L526.67 128.23L527.27 127.82L527.87 127.41L528.47 127.01L529.06 126.60L529.66 126.20L530.26 125.79L530.86 125.39L531.45 124.99L532.05 124.59L532.65 124.19L533.25 123.79L533.85 123.39L534.44 123.00L535.04 122.60L535.64 122.21L536.24 121.81L536.83 121.42L537.43 121.03L538.03 120.64L538.63 120.25L539.23 119.86L539.82 119.47L540.42 119.09L541.02 118.70L541.62 118.32L542.21 117.93L542.81 117.55L543.41 117.17L544.01 116.79L544.61 116.41L545.20 116.03L545.80 115.65L546.40 115.27L547.00 114.90L547.59 114.52L548.19 114.15L548.79 113.78L549.39 113.41L549.98 113.04L550.58 112.67L551.18 112.30L551.78 111.93L552.38 111.57L552.97 111.20L553.57 110.84L554.17 110.47L554.77 110.11L555.36 109.75L555.96 109.39L556.56 109.03L557.16 108.67L557.76 108.32L558.35 107.96L558.95 107.61L559.55 107.25L560.15 106.90L560.74 106.55L561.34 106.20L561.94 105.85L562.54 105.50L563.14 105.15L563.73 104.81L564.33 104.46L564.93 104.12L565.53 103.77L566.12 103.43L566.72 103.09L567.32 102.75L567.92 102.41L568.52 102.08L569.11 101.74L569.71 101.40L570.31 101.07L570.91 100.73L571.50 100.40L572.10 100.07L572.70 99.74L573.30 99.41L573.89 99.08L574.49 98.76L575.09 98.43L575.69 98.11L576.29 97.78L576.88 97.46L577.48 97.14L578.08 96.82L578.68 96.50L579.27 96.18L579.87 95.86L580.47 95.55L581.07 95.23L581.67 94.92L582.26 94.61L582.86 94.29L583.46 93.98L584.06 93.67L584.65 93.37L585.25 93.06L585.85 92.75L586.45 92.45L587.05 92.14L587.64 91.84L588.24 91.54L588.84 91.24L589.44 90.94L590.03 90.64L590.63 90.34L591.23 90.05L591.83 89.75L592.42 89.46L593.02 89.17L593.62 88.87L594.22 88.58L594.82 88.29L595.41 88.01L596.01 87.72L596.61 87.43L597.21 87.15L597.80 86.86L598.40 86.58L599.00 86.30" stroke="#cbcbcb" stroke-width="2.1"/>
<path d="M435.22 201.57L435.82 201.03L436.41 200.49L437.01 199.94L437.61 199.40L438.21 198.86L438.80 198.33L439.40 197.79L440.00 197.25L440.60 196.71L441.20 196.18L441.79 195.64L442.39 195.11L442.99 194.58L443.59 194.05L444.18 193.52L444.78 192.98L445.38 192.46L445.98 191.93L446.58 191.40L447.17 190.87L447.77 190.35L448.37 189.82L448.97 189.29L449.56 188.77L450.16 188.25L450.76 187.73L451.36 187.20L451.95 186.68L452.55 186.16L453.15 185.64L453.75 185.13L454.35 184.61L454.94 184.09L455.54 183.57L456.14 183.06L456.74 182.55L457.33 182.03L457.93 181.52L458.53 181.01L459.13 180.50L459.73 179.99L460.32 179.48L460.92 178.97L461.52 178.46L462.12 177.95L462.71 177.45L463.31 176.94L463.91 176.44L464.51 175.93L465.11 175.43L465.70 174.93L466.30 174.43L466.90 173.93L467.50 173.43L468.09 172.93L468.69 172.43L469.29 171.94L469.89 171.44L470.48 170.95L471.08 170.45L471.68 169.96L472.28 169.46L472.88 168.97L473.47 168.48L474.07 167.99L474.67 167.50L475.27 167.01L475.86 166.53L476.46 166.04L477.06 165.55L477.66 165.07L478.26 164.59L478.85 164.10L479.45 163.62L480.05 163.14L480.65 162.66L481.24 162.18L481.84 161.70L482.44 161.22L483.04 160.75L483.64 160.27L484.23 159.79L484.83 159.32L485.43 158.85L486.03 158.37L486.62 157.90L487.22 157.43L487.82 156.96L488.42 156.49L489.02 156.02L489.61 155.56L490.21 155.09L490.81 154.62L491.41 154.16L492.00 153.70L492.60 153.23L493.20 152.77L493.80 152.31L494.39 151.85L494.99 151.39L495.59 150.93L496.19 150.47L496.79 150.02L497.38 149.56L497.98 149.11L498.58 148.65L499.18 148.20L499.77 147.75L500.37 147.30L500.97 146.85L501.57 146.40L502.17 145.95L502.76 145.50L503.36 145.06L503.96 144.61L504.56 144.17L505.15 143.72L505.75 143.28L506.35 142.84L506.95 142.40L507.55 141.96L508.14 141.52L508.74 141.08L509.34 140.64L509.94 140.21L510.53 139.77L511.13 139.34L511.73 138.90L512.33 138.47L512.92 138.04L513.52 137.61L514.12 137.18L514.72 136.75L515.32 136.32L515.91 135.90L516.51 135.47L517.11 135.05L517.71 134.62L518.30 134.20L518.90 133.78L519.50 133.36L520.10 132.94L520.70 132.52L521.29 132.10L521.89 131.68L522.49 131.27L523.09 130.85L523.68 130.44L524.28 130.02L524.88 129.61L525.48 129.20L526.08 128.79L526.67 128.38L527.27 127.97L527.87 127.56L528.47 127.16L529.06 126.75L529.66 126.35L530.26 125.94L530.86 125.54L531.45 125.14L532.05 124.74L532.65 124.34L533.25 123.94L533.85 123.54L534.44 123.15L535.04 122.75L535.64 122.36L536.24 121.96L536.83 121.57L537.43 121.18L538.03 120.79L538.63 120.40L539.23 120.01L539.82 119.62L540.42 119.24L541.02 118.85L541.62 118.47L542.21 118.08L542.81 117.70L543.41 117.32L544.01 116.94L544.61 116.56L545.20 116.18L545.80 115.80L546.40 115.42L547.00 115.05L547.59 114.67L548.19 114.30L548.79 113.93L549.39 113.56L549.98 113.19L550.58 112.82L551.18 112.45L551.78 112.08L552.38 111.72L552.97 111.35L553.57 110.99L554.17 110.62L554.77 110.26L555.36 109.90L555.96 109.54L556.56 109.18L557.16 108.82L557.76 108.47L558.35 108.11L558.95 107.76L559.55 107.40L560.15 107.05L560.74 106.70L561.34 106.35L561.94 106.00L562.54 105.65L563.14 105.30L563.73 104.96L564.33 104.61L564.93 104.27L565.53 103.92L566.12 103.58L566.72 103.24L567.32 102.90L567.92 102.56L568.52 102.23L569.11 101.89L569.71 101.55L570.31 101.22L570.91 100.88L571.50 100.55L572.10 100.22L572.70 99.89L573.30 99.56L573.89 99.23L574.49 98.91L575.09 98.58L575.69 98.26L576.29 97.93L576.88 97.61L577.48 97.29L578.08 96.97L578.68 96.65L579.27 96.33L579.87 96.01L580.47 95.70L581.07 95.38L581.67 95.07L582.26 94.76L582.86 94.44L583.46 94.13L584.06 93.82L584.65 93.52L585.25 93.21L585.85 92.90L586.45 92.60L587.05 92.29L587.64 91.99L588.24 91.69L588.84 91.39L589.44 91.09L590.03 90.79L590.63 90.49L591.23 90.20L591.83 89.90L592.42 89.61L593.02 89.32L593.62 89.02L594.22 88.73L594.82 88.44L595.41 88.16L596.01 87.87L596.61 87.58L597.21 87.30L597.80 87.01L598.40 86.73L599.00 86.45" stroke="#cbcbcb" stroke-width="2.8"/>
</g>
</svg>
</body></html>
